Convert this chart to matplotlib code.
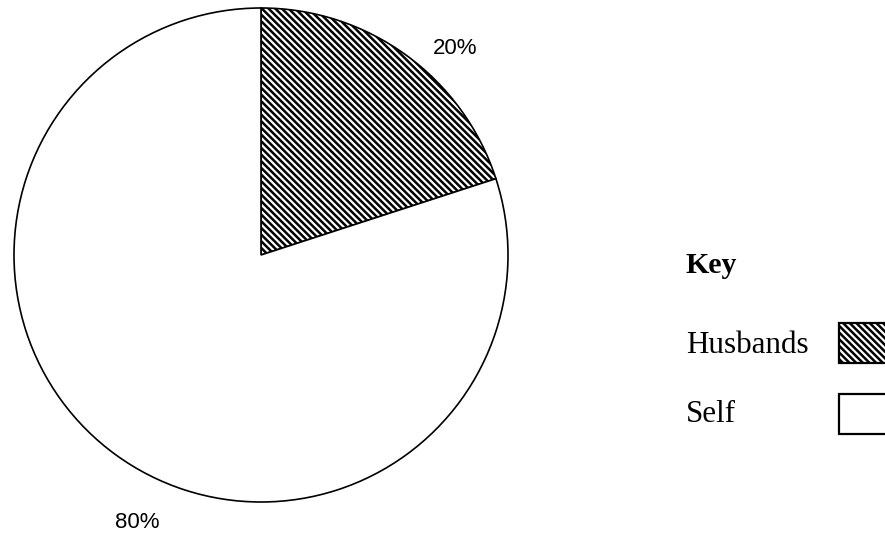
import matplotlib
matplotlib.use("Agg")
import matplotlib.pyplot as plt
from matplotlib.patches import Rectangle

# data
categories = ["Husbands", "Self"]
shares = [20, 80]
pct_labels = ["20%", "80%"]
hatches = ["\\" * 5, ""]

plt.rcParams["hatch.linewidth"] = 1.8
plt.rcParams["hatch.color"] = "black"

W, H = 885, 534
fig = plt.figure(figsize=(W / 100, H / 100), dpi=100)
fig.patch.set_facecolor("white")

# pie axes: centre (261, 255) px, radius 247 px
cx, cy, r = 261, 255, 247
ax = fig.add_axes([(cx - r) / W, (H - cy - r) / H, 2 * r / W, 2 * r / H])
wedges, _ = ax.pie(shares, startangle=90, counterclock=False,
                   colors=["white", "white"],
                   wedgeprops=dict(edgecolor="black", linewidth=1.2))
for w, h in zip(wedges, hatches):
    w.set_hatch(h)
ax.set_xlim(-1, 1)
ax.set_ylim(-1, 1)
ax.axis("off")

# percentage labels (data coords of the pie)
label_pos = [(0.785, 0.838), (-0.502, -1.085)]
for txt, (x, y) in zip(pct_labels, label_pos):
    ax.text(x, y, txt, ha="center", va="center", fontsize=16,
            family="Liberation Sans", clip_on=False)

# key
serif = "Liberation Serif"
fig.text(686 / W, 1 - 273 / H, "Key", fontsize=21.5, fontweight="bold",
         family=serif, va="baseline")
rows_y = [353, 422]
box_top = [323, 394]
for name, h, yb, bt in zip(categories, hatches, rows_y, box_top):
    fig.text(686 / W, 1 - yb / H, name, fontsize=22.3, family=serif,
             va="baseline")
    rect = Rectangle((839 / W, 1 - (bt + 40) / H), 60 / W, 40 / H,
                     transform=fig.transFigure, facecolor="white",
                     edgecolor="black", linewidth=1.6, hatch=h)
    fig.patches.append(rect)

fig.savefig("out.png", dpi=100)
